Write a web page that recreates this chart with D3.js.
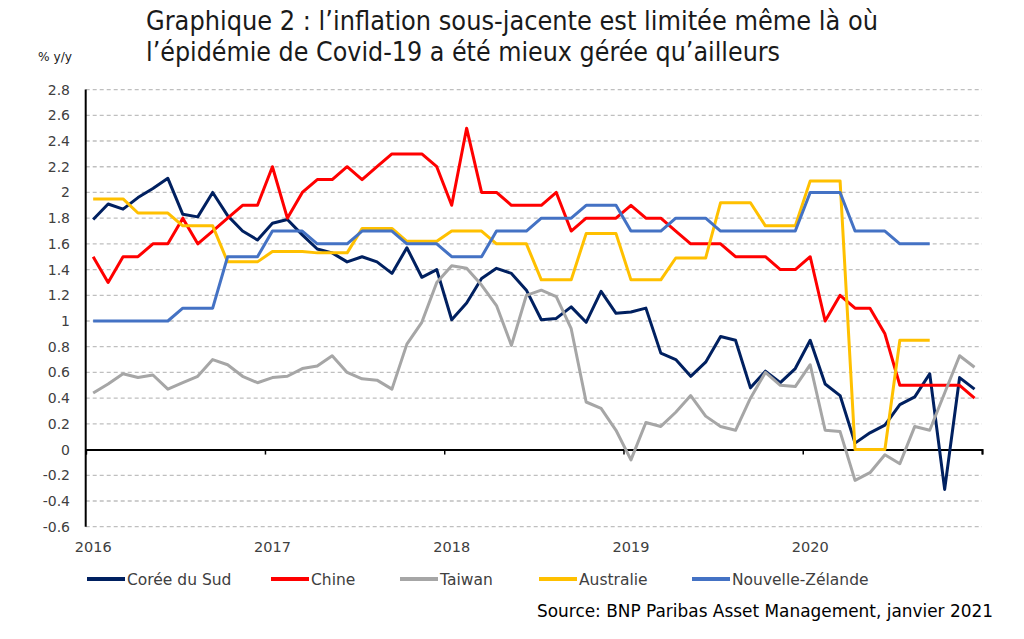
<!DOCTYPE html>
<html>
<head>
<meta charset="utf-8">
<script src="https://cdn.jsdelivr.net/npm/d3@7"></script>
<style>
  body { margin: 0; background: #fff; }
  svg { display: block; }
  text { font-family: "DejaVu Sans", sans-serif; }
</style>
</head>
<body>
<div id="chart"></div>
<script>
// monthly data, Jan 2016 .. Dec 2020
var years = ["2016", "2017", "2018", "2019", "2020"];

var coree = [1.79, 1.91, 1.87, 1.96, 2.03, 2.11, 1.83, 1.81, 2.00, 1.82, 1.70, 1.63,
             1.76, 1.79, 1.67, 1.56, 1.53, 1.46, 1.50, 1.46, 1.37, 1.57, 1.34, 1.40,
             1.01, 1.14, 1.33, 1.41, 1.37, 1.24, 1.01, 1.02, 1.11, 0.99, 1.23, 1.06,
             1.07, 1.10, 0.75, 0.70, 0.57, 0.68, 0.88, 0.85, 0.48, 0.61, 0.52, 0.63,
             0.85, 0.51, 0.42, 0.05, 0.13, 0.19, 0.35, 0.41, 0.59, -0.31, 0.56, 0.47];

var chine = [1.5, 1.3, 1.5, 1.5, 1.6, 1.6, 1.8, 1.6, 1.7, 1.8, 1.9, 1.9,
             2.2, 1.8, 2.0, 2.1, 2.1, 2.2, 2.1, 2.2, 2.3, 2.3, 2.3, 2.2,
             1.9, 2.5, 2.0, 2.0, 1.9, 1.9, 1.9, 2.0, 1.7, 1.8, 1.8, 1.8,
             1.9, 1.8, 1.8, 1.7, 1.6, 1.6, 1.6, 1.5, 1.5, 1.5, 1.4, 1.4,
             1.5, 1.0, 1.2, 1.1, 1.1, 0.9, 0.5, 0.5, 0.5, 0.5, 0.5, 0.4];

var taiwan = [0.44, 0.51, 0.59, 0.56, 0.58, 0.47, 0.52, 0.57, 0.70, 0.66, 0.57, 0.52,
              0.56, 0.57, 0.63, 0.65, 0.73, 0.60, 0.55, 0.54, 0.47, 0.82, 0.99, 1.30,
              1.43, 1.41, 1.28, 1.12, 0.81, 1.20, 1.24, 1.19, 0.94, 0.37, 0.32, 0.15,
              -0.08, 0.21, 0.18, 0.29, 0.42, 0.26, 0.18, 0.15, 0.40, 0.60, 0.50, 0.49,
              0.66, 0.15, 0.14, -0.24, -0.18, -0.04, -0.11, 0.18, 0.15, 0.44, 0.73, 0.64];

// quarterly figures repeated over the 3 months
var australie = [1.95, 1.95, 1.95, 1.84, 1.84, 1.84, 1.74, 1.74, 1.74, 1.46, 1.46, 1.46,
                 1.54, 1.54, 1.54, 1.53, 1.53, 1.53, 1.72, 1.72, 1.72, 1.62, 1.62, 1.62,
                 1.70, 1.70, 1.70, 1.60, 1.60, 1.60, 1.32, 1.32, 1.32, 1.68, 1.68, 1.68,
                 1.32, 1.32, 1.32, 1.49, 1.49, 1.49, 1.92, 1.92, 1.92, 1.74, 1.74, 1.74,
                 2.09, 2.09, 2.09, 0.0, 0.0, 0.0, 0.85, 0.85, 0.85, null, null, null];

var nzelande = [1.0, 1.0, 1.0, 1.0, 1.0, 1.0, 1.1, 1.1, 1.1, 1.5, 1.5, 1.5,
                1.7, 1.7, 1.7, 1.6, 1.6, 1.6, 1.7, 1.7, 1.7, 1.6, 1.6, 1.6,
                1.5, 1.5, 1.5, 1.7, 1.7, 1.7, 1.8, 1.8, 1.8, 1.9, 1.9, 1.9,
                1.7, 1.7, 1.7, 1.8, 1.8, 1.8, 1.7, 1.7, 1.7, 1.7, 1.7, 1.7,
                2.0, 2.0, 2.0, 1.7, 1.7, 1.7, 1.6, 1.6, 1.6, null, null, null];

var yTicks = [-0.6, -0.4, -0.2, 0, 0.2, 0.4, 0.6, 0.8, 1, 1.2, 1.4, 1.6, 1.8, 2, 2.2, 2.4, 2.6, 2.8];

var series = [
  {name: "Corée du Sud", values: coree, color: "#002060", lx: 87},
  {name: "Chine", values: chine, color: "#ff0000", lx: 271},
  {name: "Taiwan", values: taiwan, color: "#a6a6a6", lx: 400},
  {name: "Australie", values: australie, color: "#ffc000", lx: 539},
  {name: "Nouvelle-Zélande", values: nzelande, color: "#4472c4", lx: 692}
];

var width = 1024, height = 639;
var plotLeft = 85.7, plotRight = 982, plotTop = 89.6, plotBottom = 526.7;

var svg = d3.select("#chart").append("svg")
    .attr("width", width)
    .attr("height", height);

var months = d3.range(coree.length);
var x = d3.scaleBand().domain(months).range([plotLeft, plotRight]);
var xm = d3.scaleLinear().domain([0, 60]).range([plotLeft, plotRight]);
var y = d3.scaleLinear().domain([-0.6, 2.8]).range([plotBottom, plotTop]);

// gridlines
svg.append("g").selectAll("line")
    .data(yTicks.filter(function(d) { return d !== 0; }))
    .enter().append("line")
    .attr("x1", plotLeft).attr("x2", plotRight)
    .attr("y1", function(d) { return y(d); })
    .attr("y2", function(d) { return y(d); })
    .attr("stroke", "#bfbfbf")
    .attr("stroke-width", 1.3)
    .attr("stroke-dasharray", "4,3");

// y labels
svg.append("g").selectAll("text")
    .data(yTicks)
    .enter().append("text")
    .attr("x", 70)
    .attr("y", function(d) { return y(d) + 5; })
    .attr("text-anchor", "end")
    .attr("font-size", "14px")
    .attr("fill", "#404040")
    .text(function(d) { return String(+d.toFixed(1)); });

// zero axis with year ticks
svg.append("g")
    .attr("transform", "translate(0," + y(0) + ")")
    .call(d3.axisBottom(xm).tickValues([0, 12, 24, 36, 48, 60]).tickSize(5).tickFormat(""))
    .call(function(g) {
      g.select(".domain").attr("stroke", "#000").attr("stroke-width", 2);
      g.selectAll(".tick line").attr("stroke", "#000").attr("stroke-width", 1.5);
    });

// left axis line
svg.append("line")
    .attr("x1", plotLeft).attr("x2", plotLeft)
    .attr("y1", plotTop).attr("y2", plotBottom)
    .attr("stroke", "#000")
    .attr("stroke-width", 2);

// year labels
svg.append("g").selectAll("text")
    .data(years)
    .enter().append("text")
    .attr("x", function(d, i) { return x(i * 12) + x.bandwidth() / 2; })
    .attr("y", 552)
    .attr("text-anchor", "middle")
    .attr("font-size", "14.5px")
    .attr("fill", "#404040")
    .text(function(d) { return d; });

// lines
var line = d3.line()
    .defined(function(d) { return d !== null; })
    .x(function(d, i) { return x(i) + x.bandwidth() / 2; })
    .y(function(d) { return y(d); });

svg.append("g").selectAll("path")
    .data(series)
    .enter().append("path")
    .attr("fill", "none")
    .attr("stroke", function(d) { return d.color; })
    .attr("stroke-width", 3)
    .attr("stroke-linejoin", "round")
    .attr("d", function(d) { return line(d.values); });

// legend
var leg = svg.append("g").selectAll("g")
    .data(series)
    .enter().append("g")
    .attr("transform", function(d) { return "translate(" + d.lx + ",579)"; });
leg.append("line")
    .attr("x1", 0).attr("x2", 38)
    .attr("stroke", function(d) { return d.color; })
    .attr("stroke-width", 4);
leg.append("text")
    .attr("x", 40)
    .attr("y", 5.5)
    .attr("font-size", "15.5px")
    .attr("fill", "#404040")
    .text(function(d) { return d.name; });

// titles
svg.append("text")
    .attr("x", 146).attr("y", 30)
    .attr("font-size", "26px")
    .attr("fill", "#1a1a1a")
    .attr("textLength", 732).attr("lengthAdjust", "spacingAndGlyphs")
    .text("Graphique 2 : l’inflation sous-jacente est limitée même là où");
svg.append("text")
    .attr("x", 146).attr("y", 61)
    .attr("font-size", "26px")
    .attr("fill", "#1a1a1a")
    .attr("textLength", 634).attr("lengthAdjust", "spacingAndGlyphs")
    .text("l’épidémie de Covid-19 a été mieux gérée qu’ailleurs");
svg.append("text")
    .attr("x", 38).attr("y", 61)
    .attr("font-size", "13px")
    .attr("fill", "#1a1a1a")
    .attr("textLength", 34).attr("lengthAdjust", "spacingAndGlyphs")
    .text("% y/y");

svg.append("text")
    .attr("x", 537).attr("y", 617)
    .attr("font-family", "'Open Sans', sans-serif")
    .attr("font-size", "17px")
    .attr("fill", "#000")
    .attr("textLength", 456).attr("lengthAdjust", "spacingAndGlyphs")
    .text("Source: BNP Paribas Asset Management, janvier 2021");
</script>
</body>
</html>
